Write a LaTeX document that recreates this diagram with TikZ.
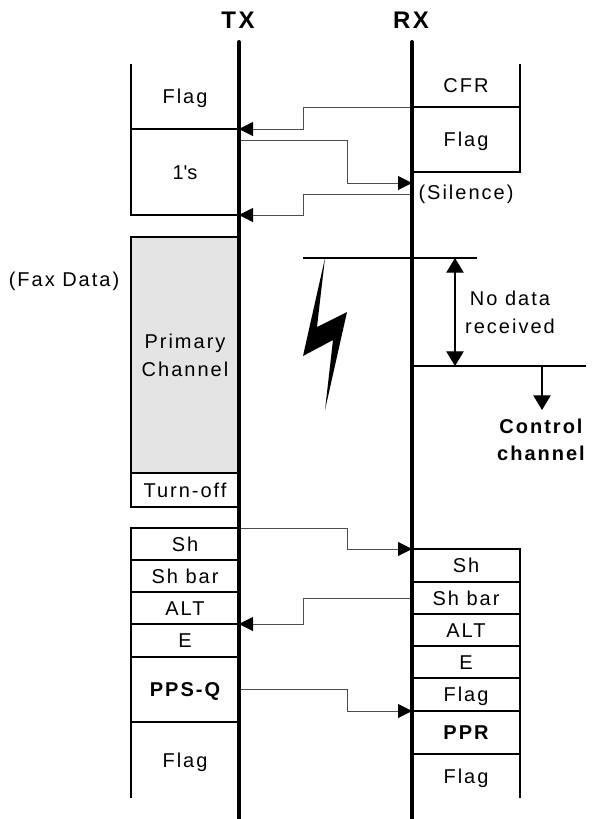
\documentclass[tikz,border=0pt]{standalone}
\usepackage{fontspec}
\setmainfont[LetterSpace=10]{Liberation Sans}
\usepackage{xcolor}
\definecolor{FXgray}{HTML}{E4E4E4}
\usetikzlibrary{positioning,arrows.meta}
\newcommand{\pxu}{0.75pt}

\begin{document}
\begin{tikzpicture}[
  x=0.75pt, y=-0.75pt,
  lbl/.style={font=\fontsize{15}{21}\selectfont, align=center, inner sep=0pt},
  boldlbl/.style={font=\fontsize{15}{20}\selectfont\bfseries},
  toplbl/.style={font=\fontsize{18}{20}\selectfont\bfseries, inner sep=0pt},
  seg/.style={lbl, draw, line width=1.5pt, outer sep=0pt, minimum width=108*\pxu, text height=10.8pt, text depth=0pt},
  openseg/.style={seg, draw=none},
  wall/.style={line width=1.5pt},
  rail/.style={line width=3pt, line cap=round},
  sig/.style={-{Triangle[length=10.5pt, width=10.5pt, color=black]}, line width=0.75pt, color=black!70},
  level/.style={line width=0.9pt},
  span/.style={{Triangle[length=11pt, width=13pt]}-{Triangle[length=11pt, width=13pt]}, line width=0.9pt},
  dropto/.style={-{Triangle[length=11pt, width=13pt]}, line width=0.9pt}
]
\useasboundingbox (0,0) rectangle (593,819);

% TX side
\node[openseg, minimum height=65*\pxu, anchor=north west] (flagA) at (131,64) {Flag};
\node[seg, minimum height=86*\pxu, below=0pt of flagA] (ones) {1\textquotesingle s};
\node[seg, fill=FXgray, text height=, text depth=, minimum height=236*\pxu, anchor=north west] (prim) at (131,237) {Primary\\Channel};
\node[seg, minimum height=34*\pxu, below=0pt of prim] (turn) {Turn-off};
\node[seg, minimum height=32*\pxu, anchor=north west] (sh) at (131,528) {Sh};
\node[seg, minimum height=32*\pxu, below=0pt of sh] (shbar) {Sh bar};
\node[seg, minimum height=32*\pxu, below=0pt of shbar] (alt) {ALT};
\node[seg, minimum height=33*\pxu, below=0pt of alt] (ee) {E};
\node[seg, boldlbl, minimum height=65*\pxu, below=0pt of ee] (ppsq) {PPS-Q};
\node[openseg, minimum height=76*\pxu, below=0pt of ppsq] (flagB) {Flag};
\draw[wall] (flagA.north west) -- (flagA.south west) -- (flagA.south east);
\draw[wall] (flagB.north west) -- (flagB.south west);

% RX side
\node[openseg, minimum height=43*\pxu, anchor=north west] (cfr) at (412,64) {CFR};
\node[seg, minimum height=65*\pxu, below=0pt of cfr] (flagC) {Flag};
\node[seg, minimum height=33*\pxu, anchor=north west] (rsh) at (412,549) {Sh};
\node[seg, minimum height=32*\pxu, below=0pt of rsh] (rshbar) {Sh bar};
\node[seg, minimum height=32*\pxu, below=0pt of rshbar] (ralt) {ALT};
\node[seg, minimum height=32*\pxu, below=0pt of ralt] (re) {E};
\node[seg, minimum height=33*\pxu, below=0pt of re] (flagD) {Flag};
\node[seg, boldlbl, minimum height=43*\pxu, below=0pt of flagD] (ppr) {PPR};
\node[openseg, minimum height=44*\pxu, below=0pt of ppr] (flagE) {Flag};
\draw[wall] (cfr.north east) -- (cfr.south east) -- (cfr.south west);
\draw[wall] (flagE.north west) -- (flagE.south west);
\draw[wall] (flagE.north east) -- (flagE.south east);

% free labels
\node[toplbl] (tx) at (238,20) {TX};
\node[toplbl] (rx) at (411,20) {RX};
\node[lbl] (fax) at (64,281) {(Fax Data)};
\node[lbl] (sil) at (466,194) {(Silence)};
\node[lbl] (nodata) at (510,312) {No data\\received};
\node[lbl, boldlbl] (ctrl) at (541,440) {Control\\channel};

% signalling
\coordinate (txq) at (241,140);
\coordinate (rxq) at (412,183);
\coordinate (rxs) at (412,194);
\draw[sig] (cfr.south west) -- ++(-109,0) |- (flagA.south east);
\draw[sig] (txq) -- ++(106,0) |- (rxq);
\draw[sig] (rxs) -- ++(-109,0) |- (ones.south east);
\draw[sig] (sh.north east) -- ++(108,0) |- (rsh.north west);
\draw[sig] (rshbar.west) -- ++(-109,0) |- (alt.south east);
\draw[sig] (ppsq.east) -- ++(108,0) |- (flagD.south west);

% loss of signal
\coordinate (lossA) at (303,258);
\coordinate (lossB) at (477,258);
\coordinate (lossC) at (412,366);
\coordinate (lossD) at (586,366);
\coordinate (spanA) at (455,258);
\coordinate (spanB) at (455,366);
\coordinate (dropA) at (542,366);
\coordinate (dropB) at (542,410);
\draw[level] (lossA) -- (lossB);
\draw[level] (lossC) -- (lossD);
\draw[span] (spanA) -- (spanB);
\draw[dropto] (dropA) -- (dropB);
\fill (325,258) -- (303,356) -- (333,340) -- (325,410) -- (347,312) -- (317,327) -- cycle;

% time axes
\coordinate (txtop) at (239,42);
\coordinate (txend) at (239,825);
\coordinate (rxtop) at (412,42);
\coordinate (rxend) at (412,825);
\draw[rail] (txtop) -- (txend);
\draw[rail] (rxtop) -- (rxend);
\end{tikzpicture}
\end{document}
